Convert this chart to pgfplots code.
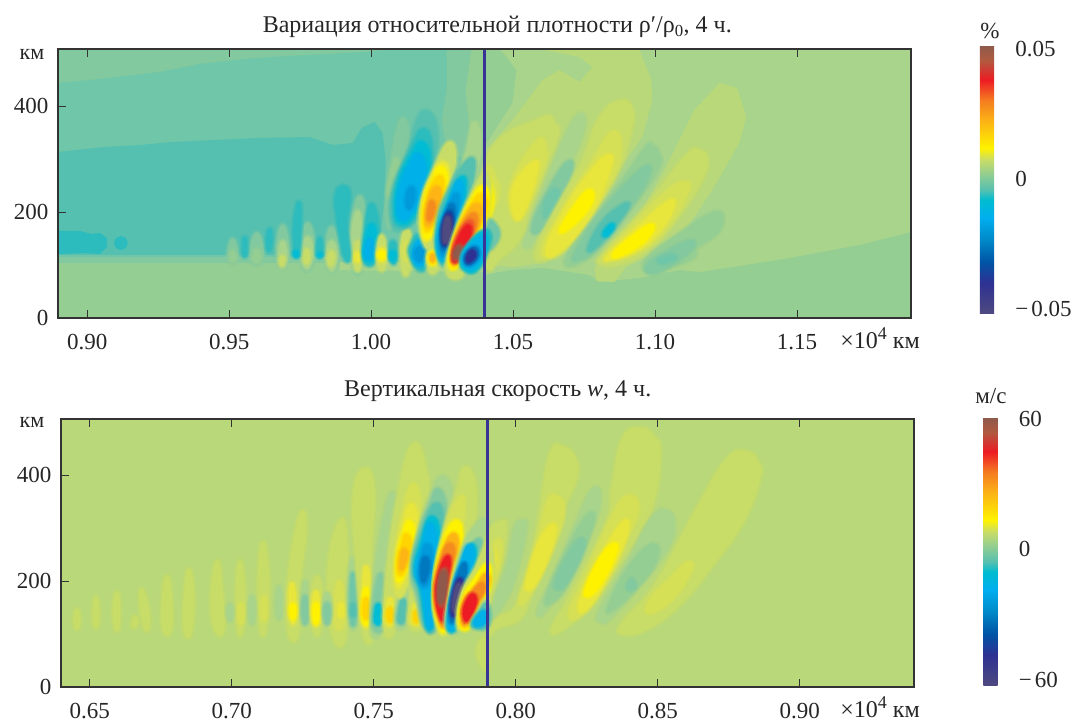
\documentclass[border=0pt]{standalone}
\usepackage{fontspec}
\usepackage{pgfplots}
\pgfplotsset{compat=1.18}
\setmainfont{Liberation Serif}
\definecolor{g0}{HTML}{B9D87A}\definecolor{g1}{HTML}{A8D48B}\definecolor{g2}{HTML}{94CE93}
\definecolor{c1}{HTML}{82C99F}\definecolor{c2}{HTML}{6FC6A8}\definecolor{c3}{HTML}{55C0B0}
\definecolor{c4}{HTML}{2CBCBE}\definecolor{c5}{HTML}{00BCD4}\definecolor{c6}{HTML}{00B0E8}
\definecolor{c7}{HTML}{009ADB}\definecolor{c8}{HTML}{0078C0}\definecolor{c9}{HTML}{0054A6}
\definecolor{c10}{HTML}{2E3192}\definecolor{c11}{HTML}{4F4A80}
\definecolor{y1}{HTML}{C8DC68}\definecolor{y2}{HTML}{D6E056}\definecolor{y3}{HTML}{E8E63C}
\definecolor{y4}{HTML}{FFF200}\definecolor{y5}{HTML}{FFD400}\definecolor{y6}{HTML}{FDB515}
\definecolor{y7}{HTML}{F58A1F}\definecolor{y8}{HTML}{F15A29}\definecolor{y9}{HTML}{ED1C24}
\definecolor{y10}{HTML}{B8503A}\definecolor{y11}{HTML}{8F5A4B}
\definecolor{axc}{HTML}{333333}
\pgfplotsset{
 colormap={scale}{rgb255(0pt)=(79,74,128) rgb255(31pt)=(46,49,146) rgb255(52pt)=(0,84,166) rgb255(74pt)=(0,136,200)
 rgb255(96pt)=(0,174,239) rgb255(114pt)=(0,188,208) rgb255(124pt)=(85,192,176) rgb255(139pt)=(143,205,147)
 rgb255(154pt)=(200,220,104) rgb255(166pt)=(255,242,0) rgb255(194pt)=(251,177,22) rgb255(214pt)=(244,123,32)
 rgb255(234pt)=(237,28,36) rgb255(254pt)=(176,90,64) rgb255(268pt)=(143,90,75)},
 pol/.style={pmap,smooth cycle,tension=0.8,line width=3pt,line join=round},
 polsharp/.style={pmap,draw=none,sharp plot},
 panel/.style={scale only axis,axis on top,width=853pt,height=269pt,
  tick align=inside,ytick pos=left,major tick length=8pt,
  tick style={axc,line width=0.7pt},axis line style={axc,line width=1.2pt},
  tick label style={font=\fontsize{23}{23}\selectfont,text=black!85},
  xticklabel style={yshift=-13pt},yticklabel style={xshift=-6pt},
  ytick={0,200,400},yticklabels={0,200,400},
  title style={font=\fontsize{24}{28}\selectfont,text=black!85,anchor=base},
  colormap name=scale,colorbar,
  colorbar style={width=22pt,height=268pt,anchor=south west,scaled y ticks=false,
   major tick length=0pt,axis line style={draw=none},tick style={draw=none},
   yticklabel pos=right,
   yticklabel style={anchor=west,xshift=10pt,font=\fontsize{23}{23}\selectfont,text=black!85}},
 },
}
% each contour: two translucent strokes (soft edge) and the filled region
\newcommand\lb[2]{%
 \addplot[pol,draw=#1,draw opacity=0.28,line width=8.5pt] coordinates {#2};%
 \addplot[pol,draw=#1,draw opacity=0.45,line width=5.5pt] coordinates {#2};%
 \addplot[pol,fill=#1,draw=#1] coordinates {#2};}
\newcommand\ls[2]{\addplot[polsharp,fill=#1] coordinates {#2} -- cycle;}
\newcommand\txt[3]{\node[font=\fontsize{#3}{#3}\selectfont,text=black!85] at (#1) {#2};}
\newcommand\mn{−\hspace{3pt}}
\begin{document}
\begin{tikzpicture}
\path[use as bounding box] (0pt,0pt) rectangle (1075pt,-722pt);
% ---------- upper panel ----------
\begin{axis}[panel,at={(58pt,-318pt)},anchor=south west,
 xmin=0.8897,xmax=1.1902,ymin=0,ymax=507.5,
 xtick={0.90,0.95,1.00,1.05,1.10,1.15},xticklabels={0.90,0.95,1.00,1.05,1.10,1.15},
 axis background/.style={fill=g2},
 title={Вариация относительной плотности ρ′/ρ\textsubscript{0}, 4 ч.},
 title style={at={(0.515,1)},yshift=10pt},
 point meta min=-0.05,point meta max=0.05,
 colorbar style={at={(1.0808,0.015)},ytick={-0.0481,0.0004,0.0489},yticklabels={\mn 0.05,0,0.05}},
 pmap/.style={x filter/.expression={0.9+(x-87.3)/2841.6},y filter/.expression={(318-y)/0.53}}]
\ls{g1}{(500,49)(912,49)(912,232)(860,245)(790,258)(740,266)(700,272)(680,270)(640,278)(600,282)(590,275)(545,268)(510,270)(486,275)(486,145)(513,103)(517,70)(508,58)}
\ls{c1}{(58,49)(472,49)(466,90)(470,130)(476,165)(480,230)(480,263)(58,263)}
\ls{c2}{(58,83)(100,79)(160,72)(200,64)(255,58)(310,55)(365,52)(400,49)(447,49)(447,90)(442,120)(447,150)(475,165)(478,257)(58,257)}
\ls{c3}{(58,152)(105,147)(140,145)(173,142)(257,138)(310,137)(333,145)(353,143)(362,128)(375,122)(383,133)(386,160)(385,200)(380,240)(378,255)(58,255)}
\ls{c4}{(58,231)(80,231)(92,234)(100,233)(107,238)(107,247)(100,254)(85,253)(58,254)}
\ls{c4}{(121,236)(126,238)(128,243)(126,248)(121,250)(116,248)(114,243)(116,238)}
\ls{g1}{(340,262)(485,262)(485,272)(340,270)}
% small pale lobes
\lb{c1}{(233,240)(237,255)(233,262)(229,255)}\lb{g2}{(233,252)(235,258)(233,261)(231,258)}
\lb{c1}{(257,234)(263,255)(257,263)(251,255)}\lb{g2}{(257,250)(260,258)(257,262)(254,258)}
\lb{c1}{(283,226)(288,250)(283,266)(278,250)}\lb{g1}{(283,242)(286,255)(283,266)(280,255)}\lb{y1}{(283,257)(284,260)(282,265)(281,260)}
\lb{c1}{(308,224)(314,250)(307,270)(302,250)}\lb{g1}{(308,238)(312,252)(307,268)(303,252)}\lb{y1}{(307,250)(309,257)(307,263)(305,257)}
\lb{c1}{(332,228)(338,250)(332,271)(327,250)}\lb{g1}{(332,242)(336,255)(332,270)(328,255)}\lb{y1}{(332,252)(334,258)(331,265)(329,258)}
\lb{c1}{(360,197)(365,230)(358,273)(352,235)}\lb{g1}{(358,212)(362,240)(358,270)(353,240)}\lb{y1}{(358,242)(361,257)(358,270)(355,257)}\lb{y3}{(358,253)(360,257)(358,261)(356,257)}
% small teal lobes
\lb{c4}{(245,238)(246,248)(245,256)(244,248)}
\lb{c4}{(270,230)(271,240)(269,250)(268,240)}
\lb{c4}{(299,203)(300,225)(298,256)(295,230)}\lb{c5}{(296,252)(297,254)(296,256)(295,254)}
\lb{c4}{(320,239)(322,250)(320,256)(318,250)}\lb{c5}{(320,254)(321,255)(320,256)(319,255)}
\lb{c4}{(343,187)(349,195)(346,225)(349,255)(345,255)(338,215)(337,195)}
\lb{c4}{(372,205)(378,230)(375,260)(365,260)(366,230)}\lb{c5}{(372,225)(376,240)(374,258)(366,258)(367,240)}\lb{c6}{(370,240)(374,250)(371,257)(367,257)(367,250)}
\lb{y1}{(382,236)(386,255)(382,270)(378,255)}\lb{y3}{(382,249)(385,255)(382,261)(379,255)}\lb{y4}{(382,252)(384,255)(382,258)(380,255)}
\lb{c4}{(393,242)(396,250)(394,263)(391,250)}\lb{c5}{(393,252)(395,256)(393,260)(391,256)}
\lb{y1}{(407,230)(412,250)(406,275)(402,250)}\lb{y2}{(407,242)(410,250)(407,260)(404,250)}
% lobe F
\lb{c1}{(401,122)(408,140)(400,180)(394,222)(388,220)(390,180)}\lb{g2}{(396,160)(399,175)(393,195)(389,190)}
\lb{g1}{(475,123)(480,150)(470,190)(462,175)(468,150)}
\lb{c3}{(427,112)(436,130)(432,170)(420,210)(402,228)(393,222)(394,190)(410,150)(418,122)}
\lb{c4}{(424,130)(431,150)(426,185)(414,218)(400,225)(395,212)(398,185)(412,150)}
\lb{c5}{(422,143)(429,160)(423,190)(412,216)(401,222)(397,208)(401,180)(413,155)}
\lb{c6}{(419,155)(425,170)(420,195)(410,214)(402,218)(399,205)(403,182)(412,163)}
\lb{c7}{(412,188)(414,195)(411,206)(408,206)(408,195)}
% G, H
\lb{c4}{(420,236)(430,250)(422,270)(411,255)(413,243)}\lb{c6}{(420,241)(428,250)(421,265)(414,255)}\lb{c7}{(420,248)(425,253)(420,260)(416,254)}
\lb{y1}{(434,245)(440,258)(433,273)(428,258)}\lb{y4}{(433,252)(436,258)(433,264)(430,258)}\lb{y6}{(433,255)(434,258)(433,261)(432,258)}
% lobe I
\lb{y1}{(450,143)(455,160)(448,185)(434,240)(424,240)(422,205)(437,165)}
\lb{y3}{(443,163)(448,175)(441,205)(431,235)(424,235)(425,200)(435,175)}
\lb{y4}{(440,168)(446,178)(439,205)(431,233)(425,232)(426,200)(434,180)}
\lb{y5}{(438,178)(443,185)(437,208)(430,228)(426,225)(428,200)}
\lb{y6}{(436,188)(440,195)(434,215)(429,225)(427,218)(430,200)}
\lb{y7}{(432,202)(434,207)(431,218)(429,218)(430,208)}
% lobe J
\lb{c3}{(470,160)(473,175)(462,215)(448,258)(440,258)(438,225)(450,190)}
\lb{c5}{(462,178)(465,190)(458,220)(448,256)(440,255)(440,230)(450,200)}
\lb{c6}{(459,182)(462,195)(455,222)(447,255)(441,253)(441,230)(450,205)}
\lb{c7}{(456,195)(458,205)(452,230)(446,252)(442,250)(442,230)(449,210)}
\lb{c8}{(452,205)(454,215)(450,235)(445,248)(443,245)(443,230)(447,215)}
\lb{c9}{(450,212)(452,222)(449,238)(445,245)(444,240)(444,228)}
\lb{c10}{(449,215)(451,225)(448,240)(445,243)(444,235)(445,225)}
\lb{c11}{(448,218)(450,228)(447,240)(445,240)(445,228)}
% lobes right of the line (behind K)
\lb{y1}{(450,262)(460,262)(462,275)(452,277)(448,270)}
\ls{g0}{(487,150)(513,120)(543,80)(560,70)(580,82)(593,67)(580,57)(545,50)(640,50)(652,80)(653,100)(643,137)(627,160)(590,197)(567,237)(547,263)(513,267)(487,265)}
\lb{g1}{(580,115)(583,130)(565,175)(545,215)(530,245)(527,235)(545,190)(565,140)}
\lb{c1}{(568,163)(570,175)(550,215)(537,232)(535,222)(550,190)}
\lb{c2}{(556,190)(558,200)(548,215)(545,212)(548,200)}
\ls{g0}{(720,83)(738,88)(747,117)(740,143)(713,190)(693,220)(680,237)(660,250)(627,267)(615,282)(597,281)(595,268)(610,250)(640,215)(665,170)(695,110)}
\lb{y1}{(488,160)(540,120)(555,125)(557,137)(543,173)(530,207)(520,237)(500,257)(487,260)}
\lb{y2}{(513,183)(537,143)(545,147)(543,167)(523,213)(513,213)}
\lb{y3}{(515,187)(532,165)(537,170)(523,213)(515,213)}
\lb{y2}{(487,170)(495,178)(498,195)(487,215)}
\lb{y4}{(486,178)(492,190)(492,205)(487,215)}
\lb{c2}{(487,222)(497,228)(497,240)(487,248)}\lb{c4}{(486,232)(490,236)(488,245)(486,246)}
\lb{y1}{(620,102)(632,110)(630,133)(617,173)(590,210)(567,247)(547,258)(537,253)(553,217)(583,163)(600,120)}
\lb{y2}{(613,133)(620,150)(610,183)(580,230)(557,253)(543,250)(563,210)(593,163)}
\lb{y3}{(607,157)(610,167)(590,215)(560,250)(548,248)(568,207)(590,175)}
\lb{y4}{(588,192)(593,197)(585,212)(568,228)(562,229)(575,208)}
\lb{g2}{(653,147)(658,153)(657,170)(627,213)(603,243)(577,263)(568,258)(593,223)(627,177)(647,148)}
\lb{c1}{(643,170)(647,178)(627,210)(597,247)(580,258)(577,253)(603,213)}
\lb{c3}{(625,205)(626,210)(610,231)(595,247)(590,247)(604,222)}
\lb{c5}{(612,225)(613,228)(607,235)(605,233)}
\lb{y1}{(700,152)(707,160)(700,183)(673,223)(647,250)(620,263)(602,263)(605,253)(647,207)(687,157)}
\lb{y2}{(685,183)(687,193)(667,227)(640,250)(613,258)(608,255)(640,220)(667,193)}
\lb{y3}{(670,202)(672,210)(657,233)(637,250)(613,258)(610,255)(640,227)}
\lb{y4}{(650,226)(652,231)(640,244)(620,255)(615,254)(630,240)}
\lb{g2}{(717,213)(719,230)(697,247)(693,257)(667,267)(650,272)(648,260)(680,235)}
\lb{c1}{(690,242)(690,250)(667,267)(653,272)(648,267)(660,257)}
\lb{c2}{(672,256)(675,258)(665,262)(660,260)}
% lobe K
\lb{y1}{(487,175)(487,215)(470,250)(460,268)(449,268)(452,245)(470,200)}
\lb{y4}{(484,187)(487,210)(470,245)(458,265)(451,265)(454,245)(470,205)}
\lb{y5}{(482,195)(485,212)(468,245)(458,262)(453,262)(456,240)(470,210)}
\lb{y6}{(478,205)(480,218)(465,248)(458,260)(454,260)(458,238)(468,215)}
\lb{y7}{(472,215)(476,225)(463,250)(457,260)(454,258)(458,238)}
\lb{y8}{(469,222)(472,230)(462,250)(457,260)(454,258)(458,240)}
\lb{y9}{(467,227)(470,233)(462,250)(457,259)(455,258)(458,243)}
\lb{y10}{(460,246)(462,252)(458,258)(455,258)(456,252)}
\lb{y11}{(459,248)(460,253)(457,256)(456,253)}
% lobe L
\lb{c4}{(487,232)(487,250)(478,268)(468,270)(462,262)(470,245)}
\lb{c5}{(485,233)(485,250)(476,268)(467,269)(464,258)(472,243)}
\lb{c6}{(483,238)(484,250)(475,265)(468,266)(465,257)(473,245)}
\lb{c8}{(475,248)(478,255)(472,263)(467,263)(467,256)}
\lb{c10}{(473,251)(475,256)(470,261)(468,260)(469,255)}
\addplot[color={rgb,255:red,58;green,51;blue,150},line width=2.5pt] coordinates {(1.04,0)(1.04,507.5)};
\end{axis}
% ---------- lower panel ----------
\begin{axis}[panel,at={(61pt,-687pt)},anchor=south west,height=268pt,
 xmin=0.6399,xmax=0.9402,ymin=0,ymax=505.7,
 xtick={0.65,0.70,0.75,0.80,0.85,0.90},xticklabels={0.65,0.70,0.75,0.80,0.85,0.90},
 axis background/.style={fill=g0},
 title={Вертикальная скорость \textit{w}, 4 ч.},
 title style={at={(0.512,1)},yshift=16pt},
 point meta min=-60,point meta max=60,
 colorbar style={at={(1.0813,0.004)},ytick={-57.3,1.3,59.5},yticklabels={\mn 60,0,60}},
 pmap/.style={x filter/.expression={0.8+(x-515.7)/2840},y filter/.expression={(687-y)/0.53}}]
% faint lobes, left part
\lb{y1}{(77,610)(79,620)(77,628)(75,620)}
\lb{y1}{(96,598)(98,615)(96,627)(94,615)}
\lb{y1}{(117,593)(119,612)(117,630)(114,612)}
\lb{y1}{(135,617)(137,622)(134,627)(133,623)}
\lb{y1}{(142,590)(148,612)(148,627)(145,627)(141,605)}
\lb{y1}{(167,577)(171,605)(170,630)(164,630)(163,605)}
\lb{y1}{(189,570)(193,600)(190,633)(185,630)(185,600)}
\lb{y1}{(217,562)(221,590)(223,628)(216,630)(212,600)}
\lb{y1}{(240,562)(244,600)(240,635)(237,600)}\lb{y2}{(241,604)(243,612)(241,623)(239,612)}
\lb{g1}{(230,605)(232,612)(230,620)(228,612)}
\lb{y1}{(263,543)(268,590)(263,635)(259,590)}\lb{y2}{(264,597)(266,610)(264,620)(262,610)}
\lb{g1}{(252,597)(254,610)(252,623)(250,610)}
\lb{g1}{(279,587)(281,605)(279,618)(277,605)}
\lb{y1}{(300,517)(305,530)(298,590)(297,635)(289,630)(289,580)}\lb{y3}{(292,584)(295,605)(293,623)(290,605)}\lb{y4}{(293,605)(295,611)(293,618)(291,611)}
\lb{g1}{(305,582)(307,605)(305,623)(303,605)}\lb{c1}{(305,597)(307,610)(305,623)(303,610)}
\lb{y1}{(340,522)(346,545)(345,633)(333,633)(329,570)}\lb{y2}{(339,582)(344,605)(342,625)(336,625)(335,605)}\lb{y3}{(341,604)(343,610)(341,616)(339,610)}
\lb{y1}{(317,577)(322,605)(317,635)(312,605)}\lb{y3}{(316,592)(319,608)(316,625)(313,608)}\lb{y4}{(316,604)(318,612)(316,623)(314,612)}
\lb{g1}{(327,594)(330,608)(327,623)(324,608)}\lb{c1}{(327,604)(329,612)(327,623)(325,612)}
\lb{g1}{(353,559)(356,590)(355,623)(351,623)(349,590)}\lb{c2}{(353,574)(355,600)(354,621)(352,621)(351,600)}\lb{c3}{(353,605)(354,612)(353,615)(352,612)}
% lobe a, b, c, d
\lb{y1}{(363,470)(373,490)(370,560)(372,630)(364,632)(357,560)(354,500)}
\lb{y3}{(366,567)(371,600)(370,623)(364,623)(363,600)}\lb{y4}{(366,589)(370,605)(369,621)(364,621)(363,605)}\lb{y5}{(366,599)(369,610)(366,618)(364,610)}
\lb{g1}{(390,497)(395,520)(385,580)(380,628)(372,628)(376,570)}
\lb{c1}{(380,575)(382,590)(384,625)(374,627)(375,600)}\lb{c5}{(378,605)(381,612)(380,622)(376,622)(376,612)}
\lb{y1}{(413,445)(425,470)(425,500)(405,560)(395,625)(385,628)(388,570)(398,500)}
\lb{y3}{(390,599)(393,610)(392,623)(387,623)(387,610)}\lb{y5}{(390,609)(392,615)(390,621)(388,615)}
\lb{g1}{(405,590)(410,610)(405,625)(397,625)(398,605)}\lb{c3}{(403,600)(406,610)(403,621)(399,621)(400,610)}
\lb{y2}{(413,485)(419,510)(414,550)(404,590)(396,590)(396,555)(403,515)}
\lb{y3}{(411,505)(416,522)(411,552)(402,582)(397,582)(397,555)(404,525)}
\lb{y4}{(409,522)(413,535)(408,558)(401,578)(398,576)(399,555)(404,535)}
\lb{y5}{(406,535)(410,545)(405,565)(400,574)(399,560)(403,545)}
\lb{y6}{(404,550)(406,556)(402,568)(401,565)(402,556)}
\lb{y1}{(415,585)(423,610)(420,628)(410,625)(410,605)}\lb{y3}{(416,605)(421,615)(419,623)(413,623)(413,612)}\lb{y5}{(416,612)(418,618)(416,621)(415,617)}
% lobe g
\lb{g1}{(443,477)(451,500)(445,540)(438,575)(437,625)(424,625)(418,600)(412,570)(420,530)(432,495)}
\lb{c1}{(438,490)(445,510)(441,545)(436,575)(435,625)(425,625)(419,597)(413,570)(421,530)(431,505)}
\lb{c3}{(435,505)(442,520)(438,550)(435,578)(433,625)(426,625)(420,592)(414,568)(422,535)}
\lb{c5}{(431,518)(438,532)(434,560)(431,585)(431,623)(427,623)(422,590)(416,568)(423,540)}
\lb{c6}{(429,525)(435,538)(432,562)(428,590)(430,622)(428,622)(424,592)(417,570)(424,545)}
\lb{c7}{(427,545)(431,555)(428,578)(424,586)(420,575)(423,555)}
\lb{c8}{(425,558)(428,565)(425,578)(423,580)(422,568)}
% lobe h
\lb{y1}{(465,468)(475,490)(470,540)(455,570)(450,625)(440,627)(435,590)(445,530)(458,490)}
\lb{y2}{(460,498)(463,515)(458,545)(448,575)(446,627)(439,627)(435,590)(443,540)}
\lb{y4}{(455,522)(461,535)(455,560)(446,590)(445,625)(440,625)(435,590)(443,545)}
\lb{y6}{(452,535)(457,545)(450,570)(444,600)(444,622)(441,622)(436,590)(443,555)}
\lb{y7}{(449,545)(453,553)(447,575)(443,600)(443,620)(441,618)(437,590)(442,560)}
\lb{y9}{(446,558)(449,565)(444,590)(443,615)(441,617)(437,600)(438,580)}
\lb{y10}{(443,570)(446,575)(443,600)(441,605)(439,595)(440,580)}
\lb{y11}{(443,573)(445,578)(443,597)(440,600)(440,585)}
% lobe i
\lb{g1}{(483,520)(487,535)(478,565)(462,625)(447,625)(452,590)(465,545)}
\lb{c2}{(478,540)(480,555)(470,590)(458,625)(448,625)(455,590)(467,560)}
\lb{c5}{(472,545)(474,565)(465,590)(456,625)(449,625)(455,590)(463,565)}
\lb{c6}{(469,546)(472,565)(463,590)(455,623)(450,623)(454,590)(461,565)}
\lb{c8}{(463,565)(465,575)(459,595)(454,618)(451,618)(453,595)}
\lb{c10}{(459,580)(462,590)(457,610)(453,615)(453,600)}
\lb{c11}{(458,585)(460,592)(456,607)(454,610)(454,600)}
% right of the line
\lb{y1}{(482,640)(487,645)(487,670)(480,660)(478,650)}
\lb{y1}{(502,522)(505,530)(500,560)(487,595)(487,540)}
\lb{y2}{(498,540)(500,560)(490,590)(487,590)(487,565)}
\lb{y3}{(487,550)(495,555)(492,575)(487,590)}
\lb{g1}{(522,522)(525,530)(513,580)(500,607)(487,625)(490,610)(507,570)(515,530)}
\lb{y1}{(563,448)(575,460)(575,480)(563,507)(557,533)(533,587)(520,617)(497,627)(487,637)(497,620)(520,600)(537,533)(550,457)}
\lb{y2}{(557,498)(563,510)(555,540)(537,580)(523,602)(522,593)(537,547)(548,503)}
\lb{y3}{(550,527)(554,533)(543,567)(530,588)(528,580)(538,547)}
\lb{g1}{(593,490)(599,500)(590,530)(567,577)(543,612)(540,607)(553,580)(577,523)}
\lb{g2}{(587,517)(591,527)(567,583)(550,602)(548,595)(563,560)}
\lb{c1}{(580,540)(582,550)(567,580)(558,588)(557,580)(568,557)}
\lb{y1}{(640,429)(653,437)(659,453)(653,500)(637,533)(607,580)(580,613)(560,630)(553,628)(570,597)(607,523)(613,487)(623,440)}
\lb{y2}{(628,497)(637,510)(623,543)(600,590)(580,615)(570,613)(583,583)(613,517)}
\lb{y3}{(622,524)(625,537)(607,577)(587,607)(580,605)(593,573)}
\lb{y4}{(613,545)(615,553)(600,583)(588,595)(587,587)(600,560)}
\lb{g1}{(667,512)(673,523)(667,547)(640,583)(610,617)(601,620)(601,610)(630,560)(653,518)}
\lb{g2}{(653,545)(654,563)(633,590)(613,608)(610,605)(630,567)}
\lb{c1}{(632,580)(634,587)(628,588)(630,582)}
\lb{y1}{(747,453)(757,463)(759,477)(743,520)(713,563)(680,603)(647,628)(623,633)(624,622)(657,583)(697,510)(727,460)}
\lb{y2}{(688,563)(689,573)(670,600)(648,612)(653,597)(670,580)}
% lobe j, k
\lb{y1}{(490,545)(490,600)(475,620)(465,627)(458,625)(462,595)(475,570)}
\lb{y4}{(488,565)(488,590)(478,600)(470,625)(461,625)(463,600)(475,580)}
\lb{y6}{(485,575)(487,585)(475,605)(468,622)(463,622)(465,600)(475,590)}
\lb{y7}{(480,585)(482,592)(472,607)(466,620)(464,620)(465,605)}
\lb{y9}{(472,595)(475,603)(468,618)(465,618)(465,607)}
\lb{c3}{(487,605)(487,625)(475,627)(473,622)(480,612)}
\lb{c6}{(484,612)(484,622)(476,625)(476,620)}
\addplot[color={rgb,255:red,58;green,51;blue,150},line width=2.5pt] coordinates {(0.79,0)(0.79,505.7)};
\end{axis}
\txt{32pt,-54pt}{км}{22}
\txt{32pt,-422pt}{км}{22}
\node[anchor=base,font=\fontsize{24}{24}\selectfont,text=black!85] at (880pt,-348pt) {×10\raisebox{9pt}{\fontsize{18}{18}\selectfont 4} км};
\node[anchor=base,font=\fontsize{24}{24}\selectfont,text=black!85] at (880pt,-717pt) {×10\raisebox{9pt}{\fontsize{18}{18}\selectfont 4} км};
\txt{990pt,-31pt}{\%}{23}
\txt{991pt,-396pt}{м/с}{23}
\end{tikzpicture}
\end{document}
